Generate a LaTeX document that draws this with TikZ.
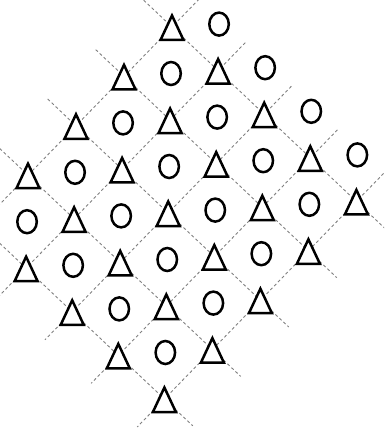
\documentclass[tikz,border=0pt]{standalone}
\usetikzlibrary{shapes.geometric}

\tikzset{
  gridline/.style={black!50, line width=0.9pt, dash pattern=on 3pt off 2.5pt,
    shorten <=-39pt, shorten >=-39pt},
  symbol/.style={draw=black, fill=white, line width=2.5pt},
  ring/.style={symbol, ellipse, inner sep=0pt, minimum width=19.5pt, minimum height=23pt},
  tri/.pic={\path[symbol] (-11.5pt,-13pt) -- (11.5pt,-13pt) -- (0pt,11.5pt) -- cycle;}
}

\begin{document}
\begin{tikzpicture}[x=1pt,y=1pt]
\useasboundingbox (0,0) rectangle (384,-436);
\clip (0,0) rectangle (384,-436);
\begin{scope}[shift={(172,-27)}, x={(46.1pt,-43.6pt)}, y={(-48pt,-49.4pt)}]
  % crossings of the grid
  \foreach \i in {0,...,4}
    \foreach \j in {0,...,4}
      \coordinate (v-\i-\j) at (\i,\j);
  % dashed grid
  \foreach \k in {0,...,4} {
    \draw[gridline] (v-0-\k) -- (v-4-\k);
    \draw[gridline] (v-\k-0) -- (v-\k-4);
  }
  % circles
  \foreach \i in {0,...,3}
    \foreach \j in {-1,...,3}
      \node[ring] (o-\i-\j) at (\i+.5,\j+.5) {};
  % triangles (left corner lies off the picture)
  \foreach \i in {0,...,4}
    \foreach \j in {0,...,4} {
      \ifnum\numexpr\i*10+\j\relax=4 \else
        \pic (t-\i-\j) at (v-\i-\j) {tri};
      \fi
    }
\end{scope}
\end{tikzpicture}
\end{document}
